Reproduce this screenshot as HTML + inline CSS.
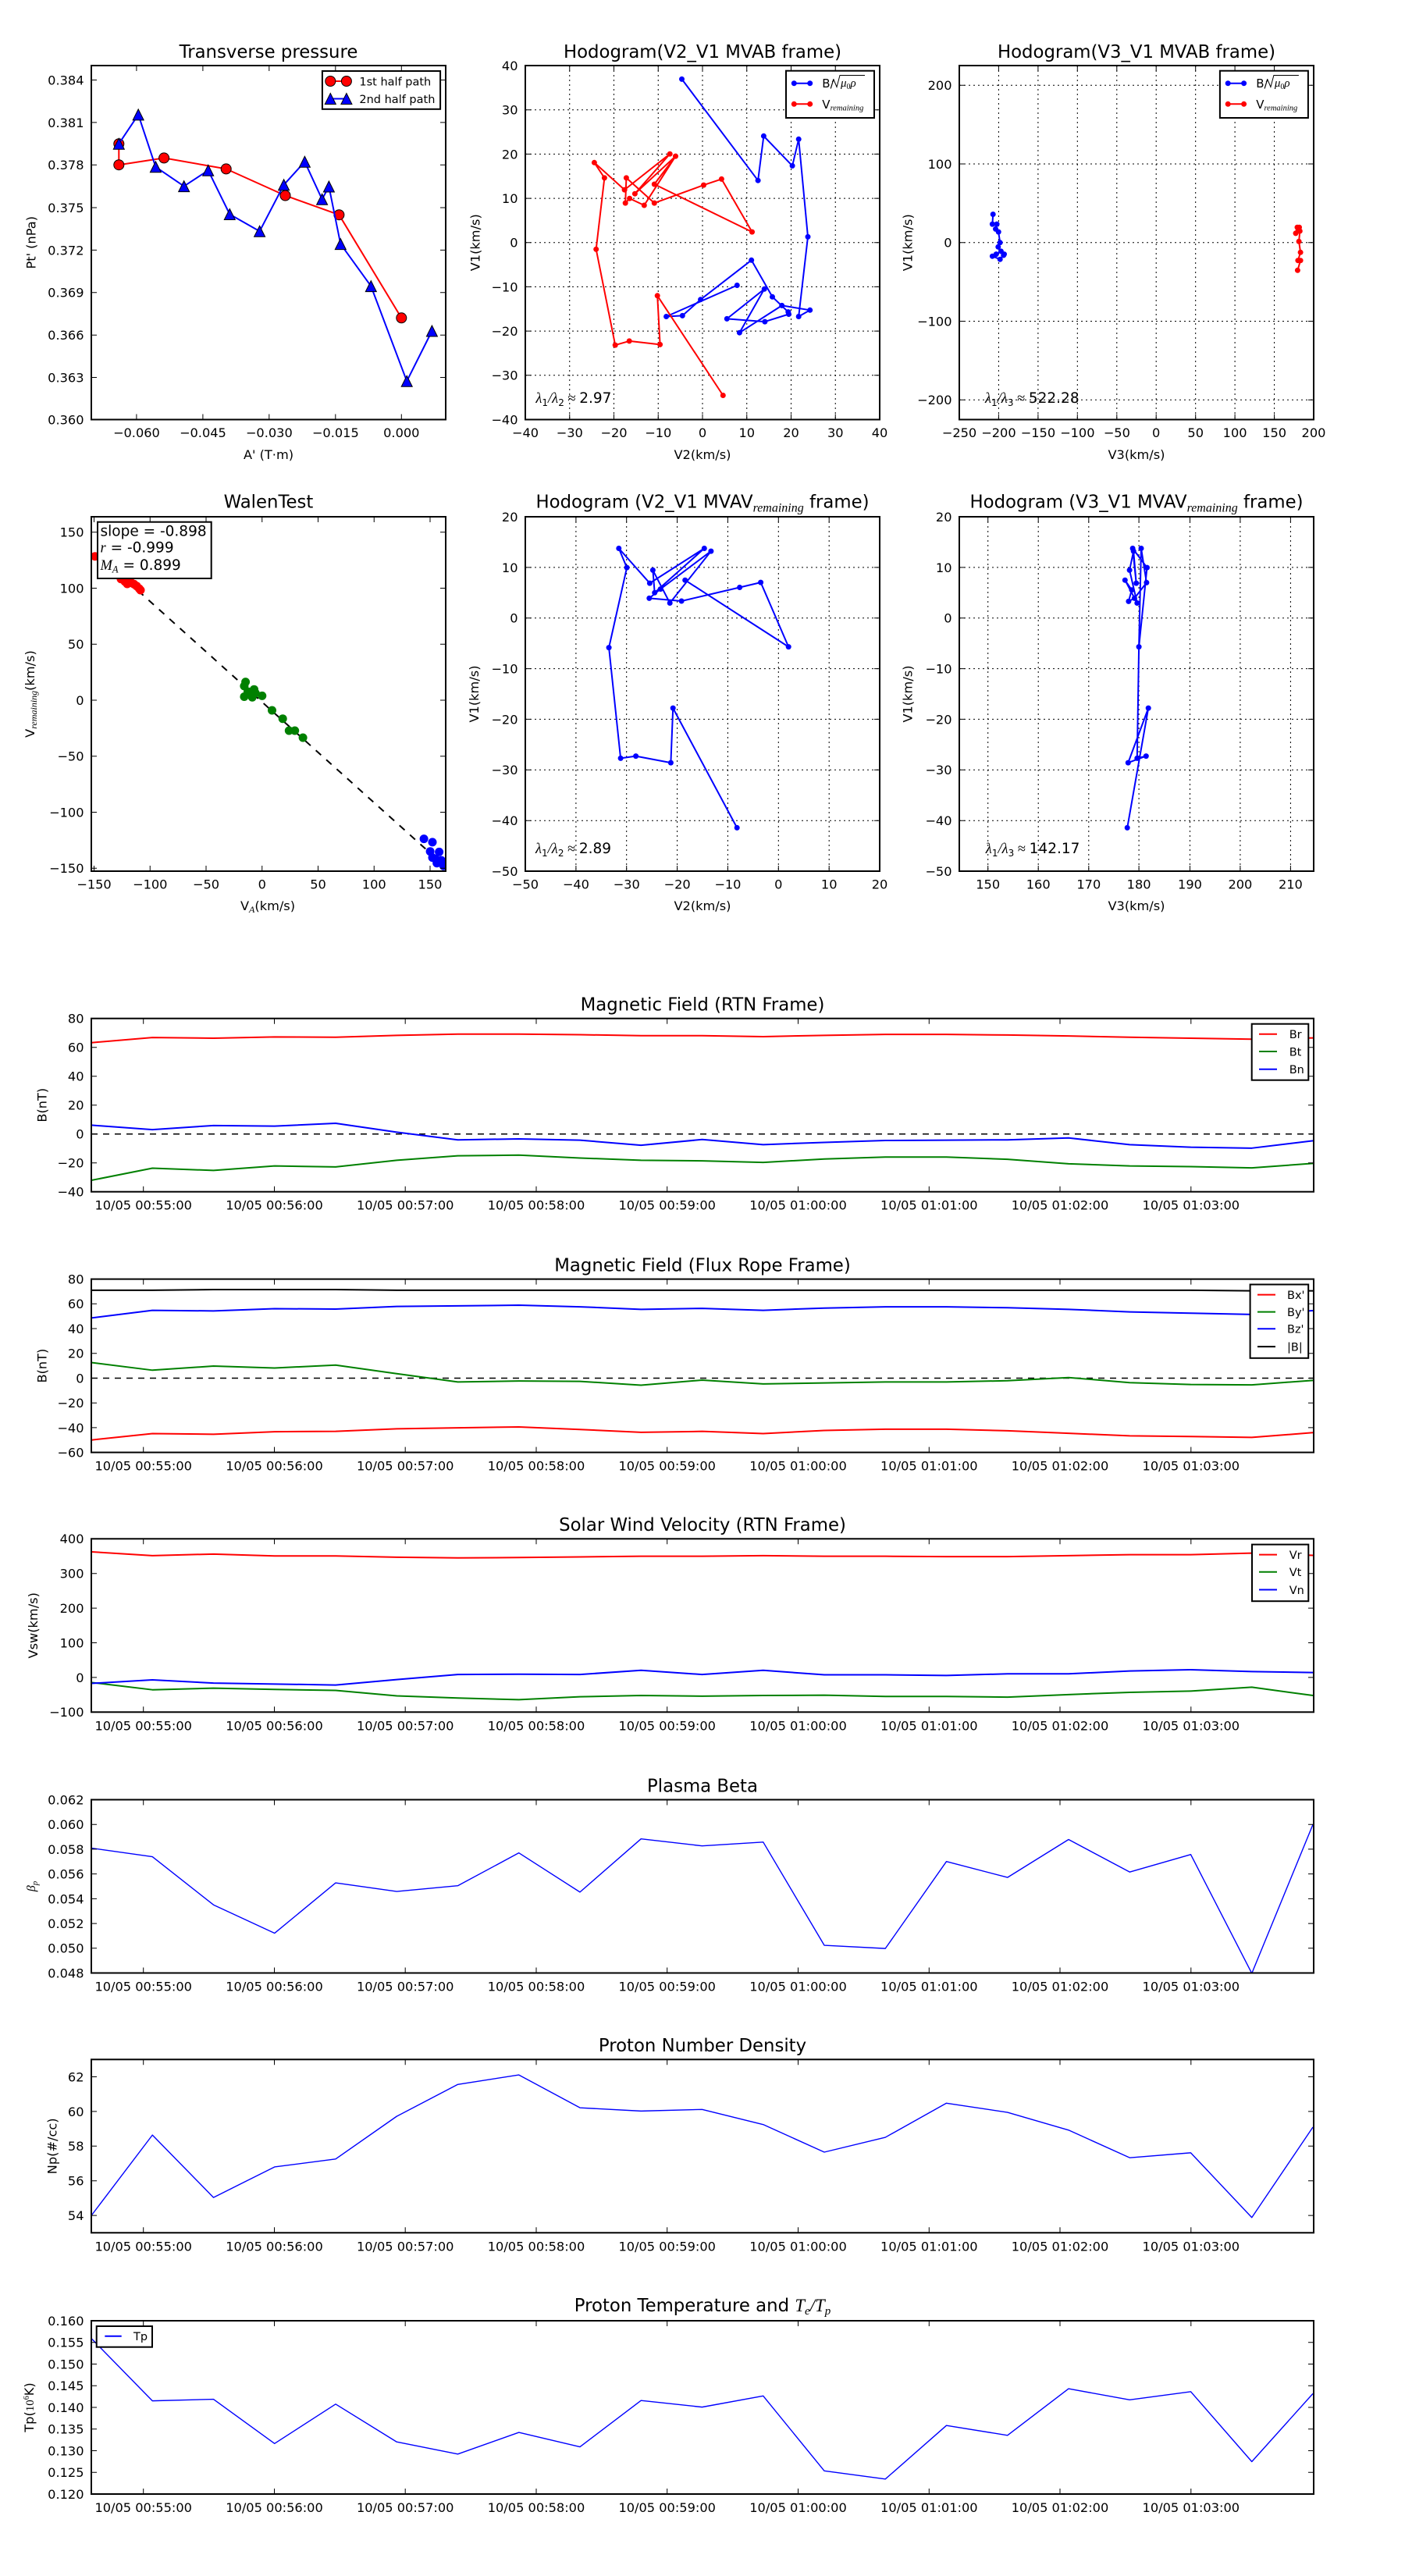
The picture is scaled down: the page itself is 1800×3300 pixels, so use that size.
<!DOCTYPE html>
<html><head><meta charset="utf-8"><style>
html,body{margin:0;padding:0;background:#fff;width:1800px;height:3300px;overflow:hidden}
svg{display:block}
text{font-family:"DejaVu Sans","Liberation Sans",sans-serif;fill:#000}
.tl{font-size:16.2px}
.ti{font-size:22.8px;text-anchor:middle}
.m{font-family:"Liberation Serif","DejaVu Serif",serif;font-style:italic}
.fr{fill:none;stroke:#000;stroke-width:2}
.tk{fill:none;stroke:#000;stroke-width:1}
.gr{fill:none;stroke:#000;stroke-width:1;stroke-dasharray:2,4}
.ln{fill:none;stroke-width:2;stroke-linejoin:round}
.th{fill:none;stroke-width:1.4;stroke-linejoin:round}
</style></head><body>
<svg width="1800" height="3300" viewBox="0 0 1800 3300" xmlns="http://www.w3.org/2000/svg">
<defs>
<clipPath id="a1"><rect x="117" y="84" width="454" height="453.5"/></clipPath>
<clipPath id="a2"><rect x="673" y="84" width="454" height="453.5"/></clipPath>
<clipPath id="a3"><rect x="1229" y="84" width="454" height="453.5"/></clipPath>
<clipPath id="a4"><rect x="117" y="662" width="454" height="454"/></clipPath>
<clipPath id="a5"><rect x="673" y="662" width="454" height="454"/></clipPath>
<clipPath id="a6"><rect x="1229" y="662" width="454" height="454"/></clipPath>
<clipPath id="t1"><rect x="117" y="1304.7" width="1566" height="222"/></clipPath>
<clipPath id="t2"><rect x="117" y="1638.6" width="1566" height="222"/></clipPath>
<clipPath id="t3"><rect x="117" y="1971.3" width="1566" height="222"/></clipPath>
<clipPath id="t4"><rect x="117" y="2305.5" width="1566" height="222"/></clipPath>
<clipPath id="t5"><rect x="117" y="2638.3" width="1566" height="222"/></clipPath>
<clipPath id="t6"><rect x="117" y="2973" width="1566" height="222"/></clipPath>
<path id="tri" d="M0,-7 L-7,7 L7,7 Z" fill="#0000ff" stroke="#000" stroke-width="1"/>
</defs>
<rect width="1800" height="3300" fill="#fff"/>

<!-- ============ Plot 1: Transverse pressure ============ -->
<text class="ti" x="344" y="74">Transverse pressure</text>
<g clip-path="url(#a1)">
<polyline class="ln" stroke="#ff0000" points="152.3,184.2 152.3,211.2 210.1,202.4 289.7,216.4 365.5,250.5 434.4,275.2 514.3,407.3"/>
<g fill="#ff0000" stroke="#000" stroke-width="1">
<circle cx="152.3" cy="184.2" r="6.5"/><circle cx="152.3" cy="211.2" r="6.5"/><circle cx="210.1" cy="202.4" r="6.5"/><circle cx="289.7" cy="216.4" r="6.5"/><circle cx="365.5" cy="250.5" r="6.5"/><circle cx="434.4" cy="275.2" r="6.5"/><circle cx="514.3" cy="407.3" r="6.5"/>
</g>
<polyline class="ln" stroke="#0000ff" points="152.3,184.2 177.2,146.9 199.4,213.8 235.7,238.6 266.7,218.3 294.3,274.5 332.6,296.3 363.6,236.8 390.4,207.2 412.6,255.3 421.4,239 436.3,312.6 475.3,366.6 521.2,488.3 553.4,424"/>
<use href="#tri" x="152.3" y="184.2"/><use href="#tri" x="177.2" y="146.9"/><use href="#tri" x="199.4" y="213.8"/><use href="#tri" x="235.7" y="238.6"/><use href="#tri" x="266.7" y="218.3"/><use href="#tri" x="294.3" y="274.5"/><use href="#tri" x="332.6" y="296.3"/><use href="#tri" x="363.6" y="236.8"/><use href="#tri" x="390.4" y="207.2"/><use href="#tri" x="412.6" y="255.3"/><use href="#tri" x="421.4" y="239"/><use href="#tri" x="436.3" y="312.6"/><use href="#tri" x="475.3" y="366.6"/><use href="#tri" x="521.2" y="488.3"/><use href="#tri" x="553.4" y="424"/>
</g>
<rect class="fr" x="117" y="84" width="454" height="453.5"/>
<path class="tk" d="M174.9,537.5v-7M259.9,537.5v-7M344.8,537.5v-7M429.8,537.5v-7M514.3,537.5v-7M174.9,84v7M259.9,84v7M344.8,84v7M429.8,84v7M514.3,84v7M117,102.5h7M117,156.9h7M117,211.2h7M117,266h7M117,320.4h7M117,374.8h7M117,429.2h7M117,483.5h7M571,102.5h-7M571,156.9h-7M571,211.2h-7M571,266h-7M571,320.4h-7M571,374.8h-7M571,429.2h-7M571,483.5h-7"/>
<g class="tl" text-anchor="middle"><text x="174.9" y="560">−0.060</text><text x="259.9" y="560">−0.045</text><text x="344.8" y="560">−0.030</text><text x="429.8" y="560">−0.015</text><text x="514.3" y="560">0.000</text></g>
<g class="tl" text-anchor="end"><text x="107.5" y="108.4">0.384</text><text x="107.5" y="162.8">0.381</text><text x="107.5" y="217.1">0.378</text><text x="107.5" y="271.9">0.375</text><text x="107.5" y="326.3">0.372</text><text x="107.5" y="380.7">0.369</text><text x="107.5" y="435.1">0.366</text><text x="107.5" y="489.4">0.363</text><text x="107.5" y="543.4">0.360</text></g>
<text class="tl" text-anchor="middle" transform="translate(45.7,310.75) rotate(-90)">Pt' (nPa)</text>
<text class="tl" text-anchor="middle" x="344" y="588">A' (T·m)</text>
<rect x="412.9" y="91" width="151.2" height="48.8" fill="#fff" stroke="#000" stroke-width="2"/>
<line x1="423.3" y1="104" x2="443.9" y2="104" stroke="#ff0000" stroke-width="2"/>
<circle cx="423.3" cy="104" r="6.5" fill="#ff0000" stroke="#000"/><circle cx="443.9" cy="104" r="6.5" fill="#ff0000" stroke="#000"/>
<text x="460.4" y="109.5" font-size="14.5">1st half path</text>
<line x1="423.3" y1="126.5" x2="443.9" y2="126.5" stroke="#0000ff" stroke-width="2"/>
<use href="#tri" x="423.3" y="126.5"/><use href="#tri" x="443.9" y="126.5"/>
<text x="460.4" y="132" font-size="14.5">2nd half path</text>

<!-- ============ Plot 2: Hodogram V2_V1 MVAB ============ -->
<text class="ti" x="900" y="74">Hodogram(V2_V1 MVAB frame)</text>
<path class="gr" d="M729.75,84V537.5M786.5,84V537.5M843.25,84V537.5M900,84V537.5M956.75,84V537.5M1013.5,84V537.5M1070.25,84V537.5M673,140.7H1127M673,197.4H1127M673,254.1H1127M673,310.75H1127M673,367.4H1127M673,424.1H1127M673,480.8H1127"/>
<g clip-path="url(#a2)">
<polyline class="ln" stroke="#0000ff" points="873.5,101.4 971.1,231.2 978.4,174.3 1015.1,212.4 1023.2,178.3 1035,303.4 1023.2,405.5 1037.7,397.3 1001.7,391.4 947.4,426.2 979.2,370.3 931.3,408.4 979.9,412.1 1010.5,402.5 1009.8,399.6 989.5,380.3 962.7,333.3 897.6,383.7 874.3,404.4 853.6,405.5 944.3,365.5"/>
<g fill="#0000ff"><circle cx="873.5" cy="101.4" r="3.5"/><circle cx="971.1" cy="231.2" r="3.5"/><circle cx="978.4" cy="174.3" r="3.5"/><circle cx="1015.1" cy="212.4" r="3.5"/><circle cx="1023.2" cy="178.3" r="3.5"/><circle cx="1035" cy="303.4" r="3.5"/><circle cx="1023.2" cy="405.5" r="3.5"/><circle cx="1037.7" cy="397.3" r="3.5"/><circle cx="1001.7" cy="391.4" r="3.5"/><circle cx="947.4" cy="426.2" r="3.5"/><circle cx="979.2" cy="370.3" r="3.5"/><circle cx="931.3" cy="408.4" r="3.5"/><circle cx="979.9" cy="412.1" r="3.5"/><circle cx="1010.5" cy="402.5" r="3.5"/><circle cx="1009.8" cy="399.6" r="3.5"/><circle cx="989.5" cy="380.3" r="3.5"/><circle cx="962.7" cy="333.3" r="3.5"/><circle cx="897.6" cy="383.7" r="3.5"/><circle cx="874.3" cy="404.4" r="3.5"/><circle cx="853.6" cy="405.5" r="3.5"/><circle cx="944.3" cy="365.5" r="3.5"/></g>
<polyline class="ln" stroke="#ff0000" points="926.3,506.5 842.2,378.8 845.6,441.4 806.2,436.9 788.2,442.1 763.7,319.3 774.4,227.9 761.4,208.3 800.1,243.1 858.2,197.2 813.4,248.2 865.5,200.1 838.3,236 963.5,297.1 924.4,229.4 901.5,237.1 838.3,260.1 802.4,227.9 801.2,260.1 806.6,254.2 825.3,263 865.5,200.1"/>
<g fill="#ff0000"><circle cx="926.3" cy="506.5" r="3.5"/><circle cx="842.2" cy="378.8" r="3.5"/><circle cx="845.6" cy="441.4" r="3.5"/><circle cx="806.2" cy="436.9" r="3.5"/><circle cx="788.2" cy="442.1" r="3.5"/><circle cx="763.7" cy="319.3" r="3.5"/><circle cx="774.4" cy="227.9" r="3.5"/><circle cx="761.4" cy="208.3" r="3.5"/><circle cx="800.1" cy="243.1" r="3.5"/><circle cx="858.2" cy="197.2" r="3.5"/><circle cx="813.4" cy="248.2" r="3.5"/><circle cx="865.5" cy="200.1" r="3.5"/><circle cx="838.3" cy="236" r="3.5"/><circle cx="963.5" cy="297.1" r="3.5"/><circle cx="924.4" cy="229.4" r="3.5"/><circle cx="901.5" cy="237.1" r="3.5"/><circle cx="838.3" cy="260.1" r="3.5"/><circle cx="802.4" cy="227.9" r="3.5"/><circle cx="801.2" cy="260.1" r="3.5"/><circle cx="806.6" cy="254.2" r="3.5"/><circle cx="825.3" cy="263" r="3.5"/></g>
</g>
<rect class="fr" x="673" y="84" width="454" height="453.5"/>
<path class="tk" d="M729.75,537.5v-7M786.5,537.5v-7M843.25,537.5v-7M900,537.5v-7M956.75,537.5v-7M1013.5,537.5v-7M1070.25,537.5v-7M729.75,84v7M786.5,84v7M843.25,84v7M900,84v7M956.75,84v7M1013.5,84v7M1070.25,84v7M673,140.7h7M673,197.4h7M673,254.1h7M673,310.75h7M673,367.4h7M673,424.1h7M673,480.8h7M1127,140.7h-7M1127,197.4h-7M1127,254.1h-7M1127,310.75h-7M1127,367.4h-7M1127,424.1h-7M1127,480.8h-7"/>
<g class="tl" text-anchor="middle"><text x="673" y="560">−40</text><text x="729.75" y="560">−30</text><text x="786.5" y="560">−20</text><text x="843.25" y="560">−10</text><text x="900" y="560">0</text><text x="956.75" y="560">10</text><text x="1013.5" y="560">20</text><text x="1070.25" y="560">30</text><text x="1127" y="560">40</text></g>
<g class="tl" text-anchor="end"><text x="663.5" y="89.9">40</text><text x="663.5" y="146.6">30</text><text x="663.5" y="203.3">20</text><text x="663.5" y="260">10</text><text x="663.5" y="316.65">0</text><text x="663.5" y="373.3">−10</text><text x="663.5" y="430">−20</text><text x="663.5" y="486.7">−30</text><text x="663.5" y="543.4">−40</text></g>
<text class="tl" text-anchor="middle" transform="translate(614.4,310.75) rotate(-90)">V1(km/s)</text>
<text class="tl" text-anchor="middle" x="900" y="588">V2(km/s)</text>
<text x="686.4" y="516" font-size="18.5"><tspan class="m">λ</tspan><tspan font-size="12" dy="4">1</tspan><tspan class="m" dy="-4">/λ</tspan><tspan font-size="12" dy="4">2</tspan><tspan dy="-4" font-family="Liberation Serif"> ≈ </tspan>2.97</text>
<g id="hleg">
<rect x="1007" y="90.7" width="113" height="60.3" fill="#fff" stroke="#000" stroke-width="2"/>
<line x1="1017.3" y1="106.7" x2="1037.7" y2="106.7" stroke="#0000ff" stroke-width="2"/>
<circle cx="1017.3" cy="106.7" r="3.5" fill="#0000ff"/><circle cx="1037.7" cy="106.7" r="3.5" fill="#0000ff"/>
<text x="1053.3" y="112" font-size="15">B/</text>
<path d="M1066,104.5 L1068.5,103 L1072,111.5 L1076,96.5 L1108,96.5" fill="none" stroke="#000" stroke-width="1"/>
<text x="1077" y="111" font-size="15"><tspan class="m">μ</tspan><tspan font-size="10" dy="3" font-family="Liberation Serif">0</tspan><tspan class="m" dy="-3">ρ</tspan></text>
<line x1="1017.3" y1="133.3" x2="1037.7" y2="133.3" stroke="#ff0000" stroke-width="2"/>
<circle cx="1017.3" cy="133.3" r="3.5" fill="#ff0000"/><circle cx="1037.7" cy="133.3" r="3.5" fill="#ff0000"/>
<text x="1053.3" y="139" font-size="15">V<tspan class="m" font-size="10.5" dy="2.5">remaining</tspan></text>
</g>

<!-- ============ Plot 3: Hodogram V3_V1 MVAB ============ -->
<text class="ti" x="1456" y="74">Hodogram(V3_V1 MVAB frame)</text>
<path class="gr" d="M1279.4,84V537.5M1329.9,84V537.5M1380.3,84V537.5M1430.8,84V537.5M1481.2,84V537.5M1531.7,84V537.5M1582.1,84V537.5M1632.6,84V537.5M1229,109.2H1683M1229,210H1683M1229,310.75H1683M1229,411.5H1683M1229,512.3H1683"/>
<g clip-path="url(#a3)">
<polyline class="ln" stroke="#0000ff" points="1272.2,274.5 1271.4,287.1 1277.1,287.1 1275.5,293.4 1279.2,297.1 1281.2,310.8 1278.8,316.3 1282.4,321.9 1276.3,325.6 1271.4,328.2 1281.2,332.2 1285.7,327 1286.5,325.6"/>
<g fill="#0000ff"><circle cx="1272.2" cy="274.5" r="3.5"/><circle cx="1271.4" cy="287.1" r="3.5"/><circle cx="1277.1" cy="287.1" r="3.5"/><circle cx="1275.5" cy="293.4" r="3.5"/><circle cx="1279.2" cy="297.1" r="3.5"/><circle cx="1281.2" cy="310.8" r="3.5"/><circle cx="1278.8" cy="316.3" r="3.5"/><circle cx="1282.4" cy="321.9" r="3.5"/><circle cx="1276.3" cy="325.6" r="3.5"/><circle cx="1271.4" cy="328.2" r="3.5"/><circle cx="1281.2" cy="332.2" r="3.5"/><circle cx="1285.7" cy="327" r="3.5"/><circle cx="1286.5" cy="325.6" r="3.5"/></g>
<polyline class="ln" stroke="#ff0000" points="1662,291.2 1664.5,291.2 1660,298.9 1662.9,296 1665.3,296 1664.1,309.3 1666.1,323.3 1662.9,333.7 1666.1,333.7 1662.4,346.3"/>
<g fill="#ff0000"><circle cx="1662" cy="291.2" r="3.5"/><circle cx="1664.5" cy="291.2" r="3.5"/><circle cx="1660" cy="298.9" r="3.5"/><circle cx="1662.9" cy="296" r="3.5"/><circle cx="1665.3" cy="296" r="3.5"/><circle cx="1664.1" cy="309.3" r="3.5"/><circle cx="1666.1" cy="323.3" r="3.5"/><circle cx="1662.9" cy="333.7" r="3.5"/><circle cx="1666.1" cy="333.7" r="3.5"/><circle cx="1662.4" cy="346.3" r="3.5"/></g>
</g>
<rect class="fr" x="1229" y="84" width="454" height="453.5"/>
<path class="tk" d="M1279.4,537.5v-7M1329.9,537.5v-7M1380.3,537.5v-7M1430.8,537.5v-7M1481.2,537.5v-7M1531.7,537.5v-7M1582.1,537.5v-7M1632.6,537.5v-7M1279.4,84v7M1329.9,84v7M1380.3,84v7M1430.8,84v7M1481.2,84v7M1531.7,84v7M1582.1,84v7M1632.6,84v7M1229,109.2h7M1229,210h7M1229,310.75h7M1229,411.5h7M1229,512.3h7M1683,109.2h-7M1683,210h-7M1683,310.75h-7M1683,411.5h-7M1683,512.3h-7"/>
<g class="tl" text-anchor="middle"><text x="1229" y="560">−250</text><text x="1279.4" y="560">−200</text><text x="1329.9" y="560">−150</text><text x="1380.3" y="560">−100</text><text x="1430.8" y="560">−50</text><text x="1481.2" y="560">0</text><text x="1531.7" y="560">50</text><text x="1582.1" y="560">100</text><text x="1632.6" y="560">150</text><text x="1683" y="560">200</text></g>
<g class="tl" text-anchor="end"><text x="1219.5" y="115.1">200</text><text x="1219.5" y="215.9">100</text><text x="1219.5" y="316.65">0</text><text x="1219.5" y="417.4">−100</text><text x="1219.5" y="518.2">−200</text></g>
<text class="tl" text-anchor="middle" transform="translate(1168.7,310.75) rotate(-90)">V1(km/s)</text>
<text class="tl" text-anchor="middle" x="1456" y="588">V3(km/s)</text>
<text x="1262" y="516" font-size="18.5"><tspan class="m">λ</tspan><tspan font-size="12" dy="4">1</tspan><tspan class="m" dy="-4">/λ</tspan><tspan font-size="12" dy="4">3</tspan><tspan dy="-4" font-family="Liberation Serif"> ≈ </tspan>522.28</text>
<g transform="translate(555.9,0)">
<rect x="1007" y="90.7" width="113" height="60.3" fill="#fff" stroke="#000" stroke-width="2"/>
<line x1="1017.3" y1="106.7" x2="1037.7" y2="106.7" stroke="#0000ff" stroke-width="2"/>
<circle cx="1017.3" cy="106.7" r="3.5" fill="#0000ff"/><circle cx="1037.7" cy="106.7" r="3.5" fill="#0000ff"/>
<text x="1053.3" y="112" font-size="15">B/</text>
<path d="M1066,104.5 L1068.5,103 L1072,111.5 L1076,96.5 L1108,96.5" fill="none" stroke="#000" stroke-width="1"/>
<text x="1077" y="111" font-size="15"><tspan class="m">μ</tspan><tspan font-size="10" dy="3" font-family="Liberation Serif">0</tspan><tspan class="m" dy="-3">ρ</tspan></text>
<line x1="1017.3" y1="133.3" x2="1037.7" y2="133.3" stroke="#ff0000" stroke-width="2"/>
<circle cx="1017.3" cy="133.3" r="3.5" fill="#ff0000"/><circle cx="1037.7" cy="133.3" r="3.5" fill="#ff0000"/>
<text x="1053.3" y="139" font-size="15">V<tspan class="m" font-size="10.5" dy="2.5">remaining</tspan></text>
</g>

<!-- ============ Walen Test ============ -->
<text class="ti" x="344" y="650.4">WalenTest</text>
<g clip-path="url(#a4)">
<line x1="110" y1="696.6" x2="580" y2="1118.7" stroke="#000" stroke-width="2" stroke-dasharray="9,9"/>
<g fill="#ff0000"><circle cx="121.7" cy="712.7" r="5.5"/><circle cx="155" cy="741.7" r="5.5"/><circle cx="160" cy="745" r="5.5"/><circle cx="165" cy="743.3" r="5.5"/><circle cx="168.3" cy="746.7" r="5.5"/><circle cx="171.7" cy="748.3" r="5.5"/><circle cx="175" cy="750.7" r="5.5"/><circle cx="178.3" cy="754" r="5.5"/><circle cx="180" cy="756" r="5.5"/><circle cx="158" cy="740" r="5.5"/><circle cx="163" cy="748" r="5.5"/></g>
<g fill="#008000"><circle cx="314.6" cy="873.6" r="5.5"/><circle cx="312.9" cy="878.9" r="5.5"/><circle cx="325.5" cy="883.2" r="5.5"/><circle cx="335.8" cy="891.4" r="5.5"/><circle cx="312.9" cy="892.5" r="5.5"/><circle cx="323.2" cy="893.2" r="5.5"/><circle cx="348.5" cy="910" r="5.5"/><circle cx="362.2" cy="920.7" r="5.5"/><circle cx="370.3" cy="936" r="5.5"/><circle cx="377.7" cy="936" r="5.5"/><circle cx="388.1" cy="945" r="5.5"/><circle cx="317.5" cy="886" r="5.5"/><circle cx="327.2" cy="887.9" r="5.5"/></g>
<g fill="#0000ff"><circle cx="543.1" cy="1074.6" r="5.5"/><circle cx="554" cy="1078.9" r="5.5"/><circle cx="551.1" cy="1090.7" r="5.5"/><circle cx="562.6" cy="1091.4" r="5.5"/><circle cx="558" cy="1100.4" r="5.5"/><circle cx="565.4" cy="1102.1" r="5.5"/><circle cx="568.3" cy="1109.3" r="5.5"/><circle cx="554" cy="1098.6" r="5.5"/><circle cx="559.7" cy="1105.7" r="5.5"/></g>
</g>
<rect class="fr" x="117" y="662" width="454" height="454"/>
<path class="tk" d="M120.5,1116v-7M192.25,1116v-7M264,1116v-7M335.75,1116v-7M407.5,1116v-7M479.25,1116v-7M551,1116v-7M120.5,662v7M192.25,662v7M264,662v7M335.75,662v7M407.5,662v7M479.25,662v7M551,662v7M117,681.75h7M117,753.5h7M117,825.25h7M117,897h7M117,968.75h7M117,1040.5h7M117,1112.25h7M571,681.75h-7M571,753.5h-7M571,825.25h-7M571,897h-7M571,968.75h-7M571,1040.5h-7M571,1112.25h-7"/>
<g class="tl" text-anchor="middle"><text x="120.5" y="1138.5">−150</text><text x="192.25" y="1138.5">−100</text><text x="264" y="1138.5">−50</text><text x="335.75" y="1138.5">0</text><text x="407.5" y="1138.5">50</text><text x="479.25" y="1138.5">100</text><text x="551" y="1138.5">150</text></g>
<g class="tl" text-anchor="end"><text x="107.5" y="687.65">150</text><text x="107.5" y="759.4">100</text><text x="107.5" y="831.15">50</text><text x="107.5" y="902.9">0</text><text x="107.5" y="974.65">−50</text><text x="107.5" y="1046.4">−100</text><text x="107.5" y="1118.15">−150</text></g>
<text class="tl" text-anchor="middle" transform="translate(44.2,889) rotate(-90)">V<tspan class="m" font-size="12" dy="3">remaining</tspan><tspan dy="-3">(km/s)</tspan></text>
<text class="tl" text-anchor="middle" x="343" y="1166">V<tspan class="m" font-size="12" dy="3">A</tspan><tspan dy="-3">(km/s)</tspan></text>
<rect x="125" y="668.7" width="145.7" height="72.3" fill="#fff" stroke="#000" stroke-width="2"/>
<g font-size="18.5">
<text x="128.5" y="686.7">slope = -0.898</text>
<text x="128.5" y="707.3"><tspan class="m">r</tspan> = -0.999</text>
<text x="128.5" y="730"><tspan class="m">M</tspan><tspan class="m" font-size="12.5" dy="3.5">A</tspan><tspan dy="-3.5"> = 0.899</tspan></text>
</g>

<!-- ============ Row 2 middle: Hodogram V2_V1 MVAV ============ -->
<text class="ti" x="900" y="650.4">Hodogram (V2_V1 MVAV<tspan class="m" font-size="16" dy="5">remaining</tspan><tspan dy="-5"> frame)</tspan></text>
<path class="gr" d="M737.9,662V1116M802.7,662V1116M867.6,662V1116M932.4,662V1116M997.3,662V1116M1062.2,662V1116M673,726.9H1127M673,791.7H1127M673,856.6H1127M673,921.4H1127M673,986.3H1127M673,1051.2H1127"/>
<g clip-path="url(#a5)">
<polyline class="ln" stroke="#0000ff" points="944.2,1060.4 862.2,907.1 859.4,977.1 814.6,968.6 795.1,971.4 780.1,829.6 803.1,727.1 792.8,702.5 832.4,747.1 902.3,702.5 838.7,759.3 836.4,730.4 858.2,772.5 910.9,706.1 846.2,754.6 831.8,766.4 873.1,770 947.6,752.5 974.6,746.1 1010.2,828.6 877.7,743.2"/>
<g fill="#0000ff"><circle cx="944.2" cy="1060.4" r="3.5"/><circle cx="862.2" cy="907.1" r="3.5"/><circle cx="859.4" cy="977.1" r="3.5"/><circle cx="814.6" cy="968.6" r="3.5"/><circle cx="795.1" cy="971.4" r="3.5"/><circle cx="780.1" cy="829.6" r="3.5"/><circle cx="803.1" cy="727.1" r="3.5"/><circle cx="792.8" cy="702.5" r="3.5"/><circle cx="832.4" cy="747.1" r="3.5"/><circle cx="902.3" cy="702.5" r="3.5"/><circle cx="838.7" cy="759.3" r="3.5"/><circle cx="836.4" cy="730.4" r="3.5"/><circle cx="858.2" cy="772.5" r="3.5"/><circle cx="910.9" cy="706.1" r="3.5"/><circle cx="846.2" cy="754.6" r="3.5"/><circle cx="831.8" cy="766.4" r="3.5"/><circle cx="873.1" cy="770" r="3.5"/><circle cx="947.6" cy="752.5" r="3.5"/><circle cx="974.6" cy="746.1" r="3.5"/><circle cx="1010.2" cy="828.6" r="3.5"/><circle cx="877.7" cy="743.2" r="3.5"/></g>
</g>
<rect class="fr" x="673" y="662" width="454" height="454"/>
<path class="tk" d="M737.9,1116v-7M802.7,1116v-7M867.6,1116v-7M932.4,1116v-7M997.3,1116v-7M1062.2,1116v-7M737.9,662v7M802.7,662v7M867.6,662v7M932.4,662v7M997.3,662v7M1062.2,662v7M673,726.9h7M673,791.7h7M673,856.6h7M673,921.4h7M673,986.3h7M673,1051.2h7M1127,726.9h-7M1127,791.7h-7M1127,856.6h-7M1127,921.4h-7M1127,986.3h-7M1127,1051.2h-7"/>
<g class="tl" text-anchor="middle"><text x="673" y="1138.5">−50</text><text x="737.9" y="1138.5">−40</text><text x="802.7" y="1138.5">−30</text><text x="867.6" y="1138.5">−20</text><text x="932.4" y="1138.5">−10</text><text x="997.3" y="1138.5">0</text><text x="1062.2" y="1138.5">10</text><text x="1127" y="1138.5">20</text></g>
<g class="tl" text-anchor="end"><text x="663.5" y="667.9">20</text><text x="663.5" y="732.8">10</text><text x="663.5" y="797.6">0</text><text x="663.5" y="862.5">−10</text><text x="663.5" y="927.3">−20</text><text x="663.5" y="992.2">−30</text><text x="663.5" y="1057.1">−40</text><text x="663.5" y="1121.9">−50</text></g>
<text class="tl" text-anchor="middle" transform="translate(613.1,889) rotate(-90)">V1(km/s)</text>
<text class="tl" text-anchor="middle" x="900" y="1166">V2(km/s)</text>
<text x="686" y="1093" font-size="18.5"><tspan class="m">λ</tspan><tspan font-size="12" dy="4">1</tspan><tspan class="m" dy="-4">/λ</tspan><tspan font-size="12" dy="4">2</tspan><tspan dy="-4" font-family="Liberation Serif"> ≈ </tspan>2.89</text>

<!-- ============ Row 2 right: Hodogram V3_V1 MVAV ============ -->
<text class="ti" x="1456" y="650.4">Hodogram (V3_V1 MVAV<tspan class="m" font-size="16" dy="5">remaining</tspan><tspan dy="-5"> frame)</tspan></text>
<path class="gr" d="M1265.7,662V1116M1330.2,662V1116M1394.8,662V1116M1459.1,662V1116M1524.5,662V1116M1588.9,662V1116M1653.4,662V1116M1229,726.9H1683M1229,791.7H1683M1229,856.6H1683M1229,921.4H1683M1229,986.3H1683M1229,1051.2H1683"/>
<g clip-path="url(#a6)">
<polyline class="ln" stroke="#0000ff" points="1444.2,1060.4 1471.2,907.1 1445.3,977.1 1468.3,968.6 1456.8,971.4 1459.1,828.6 1469.5,727.1 1451.1,702.5 1455.7,747.1 1452.2,706.1 1447.1,730.4 1456.8,772.5 1441.3,743.2 1449.9,755.7 1445.9,770.4 1453.4,766.4 1468.9,746.4 1462,702.5 1459.1,828.6"/>
<g fill="#0000ff"><circle cx="1444.2" cy="1060.4" r="3.5"/><circle cx="1471.2" cy="907.1" r="3.5"/><circle cx="1445.3" cy="977.1" r="3.5"/><circle cx="1468.3" cy="968.6" r="3.5"/><circle cx="1456.8" cy="971.4" r="3.5"/><circle cx="1459.1" cy="828.6" r="3.5"/><circle cx="1469.5" cy="727.1" r="3.5"/><circle cx="1451.1" cy="702.5" r="3.5"/><circle cx="1455.7" cy="747.1" r="3.5"/><circle cx="1452.2" cy="706.1" r="3.5"/><circle cx="1447.1" cy="730.4" r="3.5"/><circle cx="1456.8" cy="772.5" r="3.5"/><circle cx="1441.3" cy="743.2" r="3.5"/><circle cx="1449.9" cy="755.7" r="3.5"/><circle cx="1445.9" cy="770.4" r="3.5"/><circle cx="1453.4" cy="766.4" r="3.5"/><circle cx="1468.9" cy="746.4" r="3.5"/><circle cx="1462" cy="702.5" r="3.5"/></g>
</g>
<rect class="fr" x="1229" y="662" width="454" height="454"/>
<path class="tk" d="M1265.7,1116v-7M1330.2,1116v-7M1394.8,1116v-7M1459.1,1116v-7M1524.5,1116v-7M1588.9,1116v-7M1653.4,1116v-7M1265.7,662v7M1330.2,662v7M1394.8,662v7M1459.1,662v7M1524.5,662v7M1588.9,662v7M1653.4,662v7M1229,726.9h7M1229,791.7h7M1229,856.6h7M1229,921.4h7M1229,986.3h7M1229,1051.2h7M1683,726.9h-7M1683,791.7h-7M1683,856.6h-7M1683,921.4h-7M1683,986.3h-7M1683,1051.2h-7"/>
<g class="tl" text-anchor="middle"><text x="1265.7" y="1138.5">150</text><text x="1330.2" y="1138.5">160</text><text x="1394.8" y="1138.5">170</text><text x="1459.1" y="1138.5">180</text><text x="1524.5" y="1138.5">190</text><text x="1588.9" y="1138.5">200</text><text x="1653.4" y="1138.5">210</text></g>
<g class="tl" text-anchor="end"><text x="1219.5" y="667.9">20</text><text x="1219.5" y="732.8">10</text><text x="1219.5" y="797.6">0</text><text x="1219.5" y="862.5">−10</text><text x="1219.5" y="927.3">−20</text><text x="1219.5" y="992.2">−30</text><text x="1219.5" y="1057.1">−40</text><text x="1219.5" y="1121.9">−50</text></g>
<text class="tl" text-anchor="middle" transform="translate(1168.7,889) rotate(-90)">V1(km/s)</text>
<text class="tl" text-anchor="middle" x="1456" y="1166">V3(km/s)</text>
<text x="1262.8" y="1093" font-size="18.5"><tspan class="m">λ</tspan><tspan font-size="12" dy="4">1</tspan><tspan class="m" dy="-4">/λ</tspan><tspan font-size="12" dy="4">3</tspan><tspan dy="-4" font-family="Liberation Serif"> ≈ </tspan>142.17</text>

<!-- ============ TS1: Magnetic Field RTN ============ -->
<text class="ti" x="900" y="1294.5">Magnetic Field (RTN Frame)</text>
<line x1="117" y1="1452.7" x2="1683" y2="1452.7" stroke="#000" stroke-width="1.5" stroke-dasharray="8,7"/>
<g clip-path="url(#t1)"><g transform="translate(0,1270) scale(1,0.408163)">
<polyline class="ln" vector-effect="non-scaling-stroke" stroke="#ff0000" points="117,161 195.25,145 273.5,147 351.75,143 430,144 508.25,138 586.5,134 664.75,134 743,136 821.25,139 899.5,139 977.75,142 1056,138 1134.25,135 1212.5,135 1290.75,137 1369,140 1447.25,144 1525.5,147 1603.75,150 1682,146"/>
<polyline class="ln" vector-effect="non-scaling-stroke" stroke="#008000" points="117,593 195.25,555 273.5,562 351.75,548 430,551 508.25,530 586.5,516 664.75,514 743,523 821.25,530 899.5,532 977.75,537 1056,526 1134.25,520 1212.5,520 1290.75,527 1369,541 1447.25,548 1525.5,550 1603.75,554 1682,540"/>
<polyline class="ln" vector-effect="non-scaling-stroke" stroke="#0000ff" points="117,420 195.25,434 273.5,421 351.75,423 430,414 508.25,442 586.5,466 664.75,463 743,467 821.25,483 899.5,465 977.75,481 1056,474 1134.25,468 1212.5,467 1290.75,466 1369,460 1447.25,481 1525.5,489 1603.75,492 1682,469"/>
</g></g>
<rect class="fr" x="117" y="1304.7" width="1566" height="222"/>
<path class="tk" d="M183.7,1526.7v-7M351.5,1526.7v-7M519.2,1526.7v-7M687,1526.7v-7M854.7,1526.7v-7M1022.5,1526.7v-7M1190.3,1526.7v-7M1358,1526.7v-7M1525.8,1526.7v-7M183.7,1304.7v7M351.5,1304.7v7M519.2,1304.7v7M687,1304.7v7M854.7,1304.7v7M1022.5,1304.7v7M1190.3,1304.7v7M1358,1304.7v7M1525.8,1304.7v7M117,1341.7h7M117,1378.7h7M117,1415.7h7M117,1452.7h7M117,1489.7h7M1683,1341.7h-7M1683,1378.7h-7M1683,1415.7h-7M1683,1452.7h-7M1683,1489.7h-7"/>
<g class="tl" text-anchor="middle"><text x="183.7" y="1549.7">10/05 00:55:00</text><text x="351.5" y="1549.7">10/05 00:56:00</text><text x="519.2" y="1549.7">10/05 00:57:00</text><text x="687" y="1549.7">10/05 00:58:00</text><text x="854.7" y="1549.7">10/05 00:59:00</text><text x="1022.5" y="1549.7">10/05 01:00:00</text><text x="1190.3" y="1549.7">10/05 01:01:00</text><text x="1358" y="1549.7">10/05 01:02:00</text><text x="1525.8" y="1549.7">10/05 01:03:00</text></g>
<g class="tl" text-anchor="end"><text x="107.5" y="1310.6">80</text><text x="107.5" y="1347.6">60</text><text x="107.5" y="1384.6">40</text><text x="107.5" y="1421.6">20</text><text x="107.5" y="1458.6">0</text><text x="107.5" y="1495.6">−20</text><text x="107.5" y="1532.6">−40</text></g>
<text class="tl" text-anchor="middle" transform="translate(59.7,1415.7) rotate(-90)">B(nT)</text>
<rect x="1603.7" y="1311.7" width="72.6" height="72" fill="#fff" stroke="#000" stroke-width="2"/>
<line x1="1613" y1="1324.7" x2="1636" y2="1324.7" stroke="#ff0000" stroke-width="2"/>
<line x1="1613" y1="1347" x2="1636" y2="1347" stroke="#008000" stroke-width="2"/>
<line x1="1613" y1="1369.7" x2="1636" y2="1369.7" stroke="#0000ff" stroke-width="2"/>
<g font-size="14.5"><text x="1651.7" y="1330">Br</text><text x="1651.7" y="1352.3">Bt</text><text x="1651.7" y="1375">Bn</text></g>

<!-- ============ TS2: Flux Rope ============ -->
<text class="ti" x="900" y="1628.4">Magnetic Field (Flux Rope Frame)</text>
<line x1="117" y1="1765.5" x2="1683" y2="1765.5" stroke="#000" stroke-width="1.5" stroke-dasharray="8,7"/>
<g clip-path="url(#t2)"><g transform="translate(0,1270) scale(1,0.408163)">
<polyline class="ln" vector-effect="non-scaling-stroke" stroke="#ff0000" points="117,1408 195.25,1388 273.5,1390 351.75,1382 430,1381 508.25,1373 586.5,1370 664.75,1367 743,1375 821.25,1384 899.5,1381 977.75,1388 1056,1378 1134.25,1374 1212.5,1374 1290.75,1379 1369,1387 1447.25,1395 1525.5,1397 1603.75,1400 1682,1385"/>
<polyline class="ln" vector-effect="non-scaling-stroke" stroke="#008000" points="117,1165 195.25,1189 273.5,1176 351.75,1182 430,1173 508.25,1200 586.5,1226 664.75,1223 743,1224 821.25,1236 899.5,1220 977.75,1232 1056,1229 1134.25,1226 1212.5,1226 1290.75,1222 1369,1212 1447.25,1228 1525.5,1234 1603.75,1235 1682,1221"/>
<polyline class="ln" vector-effect="non-scaling-stroke" stroke="#0000ff" points="117,1025 195.25,1001 273.5,1003 351.75,996 430,997 508.25,989 586.5,987 664.75,985 743,990 821.25,998 899.5,995 977.75,1001 1056,994 1134.25,990 1212.5,990 1290.75,993 1369,998 1447.25,1006 1525.5,1010 1603.75,1014 1682,1002"/>
<polyline class="ln" vector-effect="non-scaling-stroke" stroke="#000" points="117,938 195.25,938 273.5,936 351.75,936 430,936 508.25,938 586.5,938 664.75,938 743,938 821.25,938 899.5,938 977.75,938 1056,938 1134.25,938 1212.5,938 1290.75,938 1369,938 1447.25,938 1525.5,938 1603.75,940 1682,940"/>
</g></g>
<rect class="fr" x="117" y="1638.6" width="1566" height="222"/>
<path class="tk" d="M183.7,1860.6v-7M351.5,1860.6v-7M519.2,1860.6v-7M687,1860.6v-7M854.7,1860.6v-7M1022.5,1860.6v-7M1190.3,1860.6v-7M1358,1860.6v-7M1525.8,1860.6v-7M183.7,1638.6v7M351.5,1638.6v7M519.2,1638.6v7M687,1638.6v7M854.7,1638.6v7M1022.5,1638.6v7M1190.3,1638.6v7M1358,1638.6v7M1525.8,1638.6v7M117,1670.3h7M117,1702h7M117,1733.7h7M117,1765.5h7M117,1797.2h7M117,1828.9h7M1683,1670.3h-7M1683,1702h-7M1683,1733.7h-7M1683,1765.5h-7M1683,1797.2h-7M1683,1828.9h-7"/>
<g class="tl" text-anchor="middle"><text x="183.7" y="1883.6">10/05 00:55:00</text><text x="351.5" y="1883.6">10/05 00:56:00</text><text x="519.2" y="1883.6">10/05 00:57:00</text><text x="687" y="1883.6">10/05 00:58:00</text><text x="854.7" y="1883.6">10/05 00:59:00</text><text x="1022.5" y="1883.6">10/05 01:00:00</text><text x="1190.3" y="1883.6">10/05 01:01:00</text><text x="1358" y="1883.6">10/05 01:02:00</text><text x="1525.8" y="1883.6">10/05 01:03:00</text></g>
<g class="tl" text-anchor="end"><text x="107.5" y="1644.5">80</text><text x="107.5" y="1676.2">60</text><text x="107.5" y="1707.9">40</text><text x="107.5" y="1739.6">20</text><text x="107.5" y="1771.4">0</text><text x="107.5" y="1803.1">−20</text><text x="107.5" y="1834.8">−40</text><text x="107.5" y="1866.5">−60</text></g>
<text class="tl" text-anchor="middle" transform="translate(59.7,1749.6) rotate(-90)">B(nT)</text>
<rect x="1601.6" y="1645.5" width="74.6" height="94.3" fill="#fff" stroke="#000" stroke-width="2"/>
<line x1="1611" y1="1658.6" x2="1634" y2="1658.6" stroke="#ff0000" stroke-width="2"/>
<line x1="1611" y1="1680.6" x2="1634" y2="1680.6" stroke="#008000" stroke-width="2"/>
<line x1="1611" y1="1702.2" x2="1634" y2="1702.2" stroke="#0000ff" stroke-width="2"/>
<line x1="1611" y1="1725.1" x2="1634" y2="1725.1" stroke="#000" stroke-width="2"/>
<g font-size="14.5"><text x="1649" y="1663.9">Bx'</text><text x="1649" y="1685.9">By'</text><text x="1649" y="1707.5">Bz'</text><text x="1649" y="1730.4">|B|</text></g>

<!-- ============ TS3: Solar Wind Velocity ============ -->
<text class="ti" x="900" y="1961.2">Solar Wind Velocity (RTN Frame)</text>
<g clip-path="url(#t3)"><g transform="translate(0,1930) scale(1,0.408163)">
<polyline class="ln" vector-effect="non-scaling-stroke" stroke="#ff0000" points="117,142 195.25,154 273.5,149 351.75,155 430,155 508.25,159 586.5,161 664.75,160 743,158 821.25,156 899.5,156 977.75,154 1056,156 1134.25,156 1212.5,157 1290.75,157 1369,154 1447.25,151 1525.5,151 1603.75,146 1682,153"/>
<polyline class="ln" vector-effect="non-scaling-stroke" stroke="#008000" points="117,552 195.25,575 273.5,570 351.75,574 430,577 508.25,594 586.5,601 664.75,606 743,597 821.25,593 899.5,595 977.75,593 1056,592 1134.25,596 1212.5,596 1290.75,598 1369,590 1447.25,583 1525.5,579 1603.75,567 1682,593"/>
<polyline class="ln" vector-effect="non-scaling-stroke" stroke="#0000ff" points="117,555 195.25,544 273.5,554 351.75,557 430,560 508.25,543 586.5,527 664.75,526 743,527 821.25,514 899.5,527 977.75,514 1056,528 1134.25,528 1212.5,530 1290.75,525 1369,525 1447.25,516 1525.5,512 1603.75,518 1682,521"/>
</g></g>
<rect class="fr" x="117" y="1971.3" width="1566" height="222"/>
<path class="tk" d="M183.7,2193.3v-7M351.5,2193.3v-7M519.2,2193.3v-7M687,2193.3v-7M854.7,2193.3v-7M1022.5,2193.3v-7M1190.3,2193.3v-7M1358,2193.3v-7M1525.8,2193.3v-7M183.7,1971.3v7M351.5,1971.3v7M519.2,1971.3v7M687,1971.3v7M854.7,1971.3v7M1022.5,1971.3v7M1190.3,1971.3v7M1358,1971.3v7M1525.8,1971.3v7M117,2015.7h7M117,2060.1h7M117,2104.5h7M117,2148.9h7M1683,2015.7h-7M1683,2060.1h-7M1683,2104.5h-7M1683,2148.9h-7"/>
<g class="tl" text-anchor="middle"><text x="183.7" y="2216.3">10/05 00:55:00</text><text x="351.5" y="2216.3">10/05 00:56:00</text><text x="519.2" y="2216.3">10/05 00:57:00</text><text x="687" y="2216.3">10/05 00:58:00</text><text x="854.7" y="2216.3">10/05 00:59:00</text><text x="1022.5" y="2216.3">10/05 01:00:00</text><text x="1190.3" y="2216.3">10/05 01:01:00</text><text x="1358" y="2216.3">10/05 01:02:00</text><text x="1525.8" y="2216.3">10/05 01:03:00</text></g>
<g class="tl" text-anchor="end"><text x="107.5" y="1977.2">400</text><text x="107.5" y="2021.6">300</text><text x="107.5" y="2066">200</text><text x="107.5" y="2110.4">100</text><text x="107.5" y="2154.8">0</text><text x="107.5" y="2199.2">−100</text></g>
<text class="tl" text-anchor="middle" transform="translate(48.2,2082.3) rotate(-90)">Vsw(km/s)</text>
<rect x="1604" y="1978.6" width="72.3" height="72.6" fill="#fff" stroke="#000" stroke-width="2"/>
<line x1="1613" y1="1991.6" x2="1636" y2="1991.6" stroke="#ff0000" stroke-width="2"/>
<line x1="1613" y1="2013.7" x2="1636" y2="2013.7" stroke="#008000" stroke-width="2"/>
<line x1="1613" y1="2036.5" x2="1636" y2="2036.5" stroke="#0000ff" stroke-width="2"/>
<g font-size="14.5"><text x="1651.7" y="1996.9">Vr</text><text x="1651.7" y="2019">Vt</text><text x="1651.7" y="2041.8">Vn</text></g>

<!-- ============ TS4: Plasma Beta ============ -->
<text class="ti" x="900" y="2295.3">Plasma Beta</text>
<g clip-path="url(#t4)"><g transform="translate(0,1930) scale(1,0.408163)">
<polyline class="th" vector-effect="non-scaling-stroke" stroke="#0000ff" points="117,1072 195.25,1099 273.5,1250 351.75,1339 430,1181 508.25,1208 586.5,1190 664.75,1087 743,1210 821.25,1043 899.5,1065 977.75,1053 1056,1377 1134.25,1387 1212.5,1114 1290.75,1164 1369,1045 1447.25,1147 1525.5,1092 1603.75,1465 1682,998"/>
</g></g>
<rect class="fr" x="117" y="2305.5" width="1566" height="222"/>
<path class="tk" d="M183.7,2527.5v-7M351.5,2527.5v-7M519.2,2527.5v-7M687,2527.5v-7M854.7,2527.5v-7M1022.5,2527.5v-7M1190.3,2527.5v-7M1358,2527.5v-7M1525.8,2527.5v-7M183.7,2305.5v7M351.5,2305.5v7M519.2,2305.5v7M687,2305.5v7M854.7,2305.5v7M1022.5,2305.5v7M1190.3,2305.5v7M1358,2305.5v7M1525.8,2305.5v7M117,2337.2h7M117,2368.9h7M117,2400.6h7M117,2432.4h7M117,2464.1h7M117,2495.8h7M1683,2337.2h-7M1683,2368.9h-7M1683,2400.6h-7M1683,2432.4h-7M1683,2464.1h-7M1683,2495.8h-7"/>
<g class="tl" text-anchor="middle"><text x="183.7" y="2550.5">10/05 00:55:00</text><text x="351.5" y="2550.5">10/05 00:56:00</text><text x="519.2" y="2550.5">10/05 00:57:00</text><text x="687" y="2550.5">10/05 00:58:00</text><text x="854.7" y="2550.5">10/05 00:59:00</text><text x="1022.5" y="2550.5">10/05 01:00:00</text><text x="1190.3" y="2550.5">10/05 01:01:00</text><text x="1358" y="2550.5">10/05 01:02:00</text><text x="1525.8" y="2550.5">10/05 01:03:00</text></g>
<g class="tl" text-anchor="end"><text x="107.5" y="2311.4">0.062</text><text x="107.5" y="2343.1">0.060</text><text x="107.5" y="2374.8">0.058</text><text x="107.5" y="2406.5">0.056</text><text x="107.5" y="2438.3">0.054</text><text x="107.5" y="2470">0.052</text><text x="107.5" y="2501.7">0.050</text><text x="107.5" y="2533.4">0.048</text></g>
<text text-anchor="middle" font-size="16" transform="translate(45,2416.5) rotate(-90)"><tspan class="m">β</tspan><tspan class="m" font-size="11" dy="3">p</tspan></text>

<!-- ============ TS5: Proton Number Density ============ -->
<text class="ti" x="900" y="2628">Proton Number Density</text>
<g clip-path="url(#t5)"><g transform="translate(0,2600) scale(1,0.42091)">
<polyline class="th" vector-effect="non-scaling-stroke" stroke="#0000ff" points="117,566 195.25,321 273.5,511 351.75,418 430,394 508.25,264 586.5,167 664.75,138 743,238 821.25,248 899.5,243 977.75,289 1056,373 1134.25,328 1212.5,224 1290.75,252 1369,306 1447.25,390 1525.5,375 1603.75,572 1682,297"/>
</g></g>
<rect class="fr" x="117" y="2638.3" width="1566" height="222"/>
<path class="tk" d="M183.7,2860.3v-7M351.5,2860.3v-7M519.2,2860.3v-7M687,2860.3v-7M854.7,2860.3v-7M1022.5,2860.3v-7M1190.3,2860.3v-7M1358,2860.3v-7M1525.8,2860.3v-7M183.7,2638.3v7M351.5,2638.3v7M519.2,2638.3v7M687,2638.3v7M854.7,2638.3v7M1022.5,2638.3v7M1190.3,2638.3v7M1358,2638.3v7M1525.8,2638.3v7M117,2660.5h7M117,2704.9h7M117,2749.3h7M117,2793.7h7M117,2838.1h7M1683,2660.5h-7M1683,2704.9h-7M1683,2749.3h-7M1683,2793.7h-7M1683,2838.1h-7"/>
<g class="tl" text-anchor="middle"><text x="183.7" y="2883.3">10/05 00:55:00</text><text x="351.5" y="2883.3">10/05 00:56:00</text><text x="519.2" y="2883.3">10/05 00:57:00</text><text x="687" y="2883.3">10/05 00:58:00</text><text x="854.7" y="2883.3">10/05 00:59:00</text><text x="1022.5" y="2883.3">10/05 01:00:00</text><text x="1190.3" y="2883.3">10/05 01:01:00</text><text x="1358" y="2883.3">10/05 01:02:00</text><text x="1525.8" y="2883.3">10/05 01:03:00</text></g>
<g class="tl" text-anchor="end"><text x="107.5" y="2666.4">62</text><text x="107.5" y="2710.8">60</text><text x="107.5" y="2755.2">58</text><text x="107.5" y="2799.6">56</text><text x="107.5" y="2844">54</text></g>
<text class="tl" text-anchor="middle" transform="translate(72.3,2749.3) rotate(-90)">Np(#/cc)</text>

<!-- ============ TS6: Proton Temperature ============ -->
<text class="ti" x="900" y="2961">Proton Temperature and <tspan class="m">T</tspan><tspan class="m" font-size="15" dy="4">e</tspan><tspan class="m" dy="-4">/T</tspan><tspan class="m" font-size="15" dy="4">p</tspan></text>
<g clip-path="url(#t6)"><g transform="translate(0,2600) scale(1,0.42091)">
<polyline class="th" vector-effect="non-scaling-stroke" stroke="#0000ff" points="117,940 195.25,1130 273.5,1125 351.75,1260 430,1140 508.25,1255 586.5,1292 664.75,1226 743,1270 821.25,1129 899.5,1149 977.75,1115 1056,1343 1134.25,1368 1212.5,1205 1290.75,1235 1369,1093 1447.25,1127 1525.5,1102 1603.75,1315 1682,1108"/>
</g></g>
<rect class="fr" x="117" y="2973" width="1566" height="222"/>
<path class="tk" d="M183.7,3195v-7M351.5,3195v-7M519.2,3195v-7M687,3195v-7M854.7,3195v-7M1022.5,3195v-7M1190.3,3195v-7M1358,3195v-7M1525.8,3195v-7M183.7,2973v7M351.5,2973v7M519.2,2973v7M687,2973v7M854.7,2973v7M1022.5,2973v7M1190.3,2973v7M1358,2973v7M1525.8,2973v7M117,3000.75h7M117,3028.5h7M117,3056.25h7M117,3084h7M117,3111.75h7M117,3139.5h7M117,3167.25h7M1683,3000.75h-7M1683,3028.5h-7M1683,3056.25h-7M1683,3084h-7M1683,3111.75h-7M1683,3139.5h-7M1683,3167.25h-7"/>
<g class="tl" text-anchor="middle"><text x="183.7" y="3218">10/05 00:55:00</text><text x="351.5" y="3218">10/05 00:56:00</text><text x="519.2" y="3218">10/05 00:57:00</text><text x="687" y="3218">10/05 00:58:00</text><text x="854.7" y="3218">10/05 00:59:00</text><text x="1022.5" y="3218">10/05 01:00:00</text><text x="1190.3" y="3218">10/05 01:01:00</text><text x="1358" y="3218">10/05 01:02:00</text><text x="1525.8" y="3218">10/05 01:03:00</text></g>
<g class="tl" text-anchor="end"><text x="107.5" y="2978.9">0.160</text><text x="107.5" y="3006.65">0.155</text><text x="107.5" y="3034.4">0.150</text><text x="107.5" y="3062.15">0.145</text><text x="107.5" y="3089.9">0.140</text><text x="107.5" y="3117.65">0.135</text><text x="107.5" y="3145.4">0.130</text><text x="107.5" y="3173.15">0.125</text><text x="107.5" y="3200.9">0.120</text></g>
<text class="tl" text-anchor="middle" transform="translate(43,3084) rotate(-90)">Tp(<tspan font-family="Liberation Serif" font-size="15">10</tspan><tspan font-family="Liberation Serif" font-size="10" dy="-6">6</tspan><tspan dy="6">K)</tspan></text>
<rect x="123.7" y="2980" width="71.3" height="26.7" fill="#fff" stroke="#000" stroke-width="2"/>
<line x1="134.3" y1="2992.7" x2="155.7" y2="2992.7" stroke="#0000ff" stroke-width="2"/>
<text x="171" y="2998.2" font-size="14.5">Tp</text>
</svg>
</body></html>
